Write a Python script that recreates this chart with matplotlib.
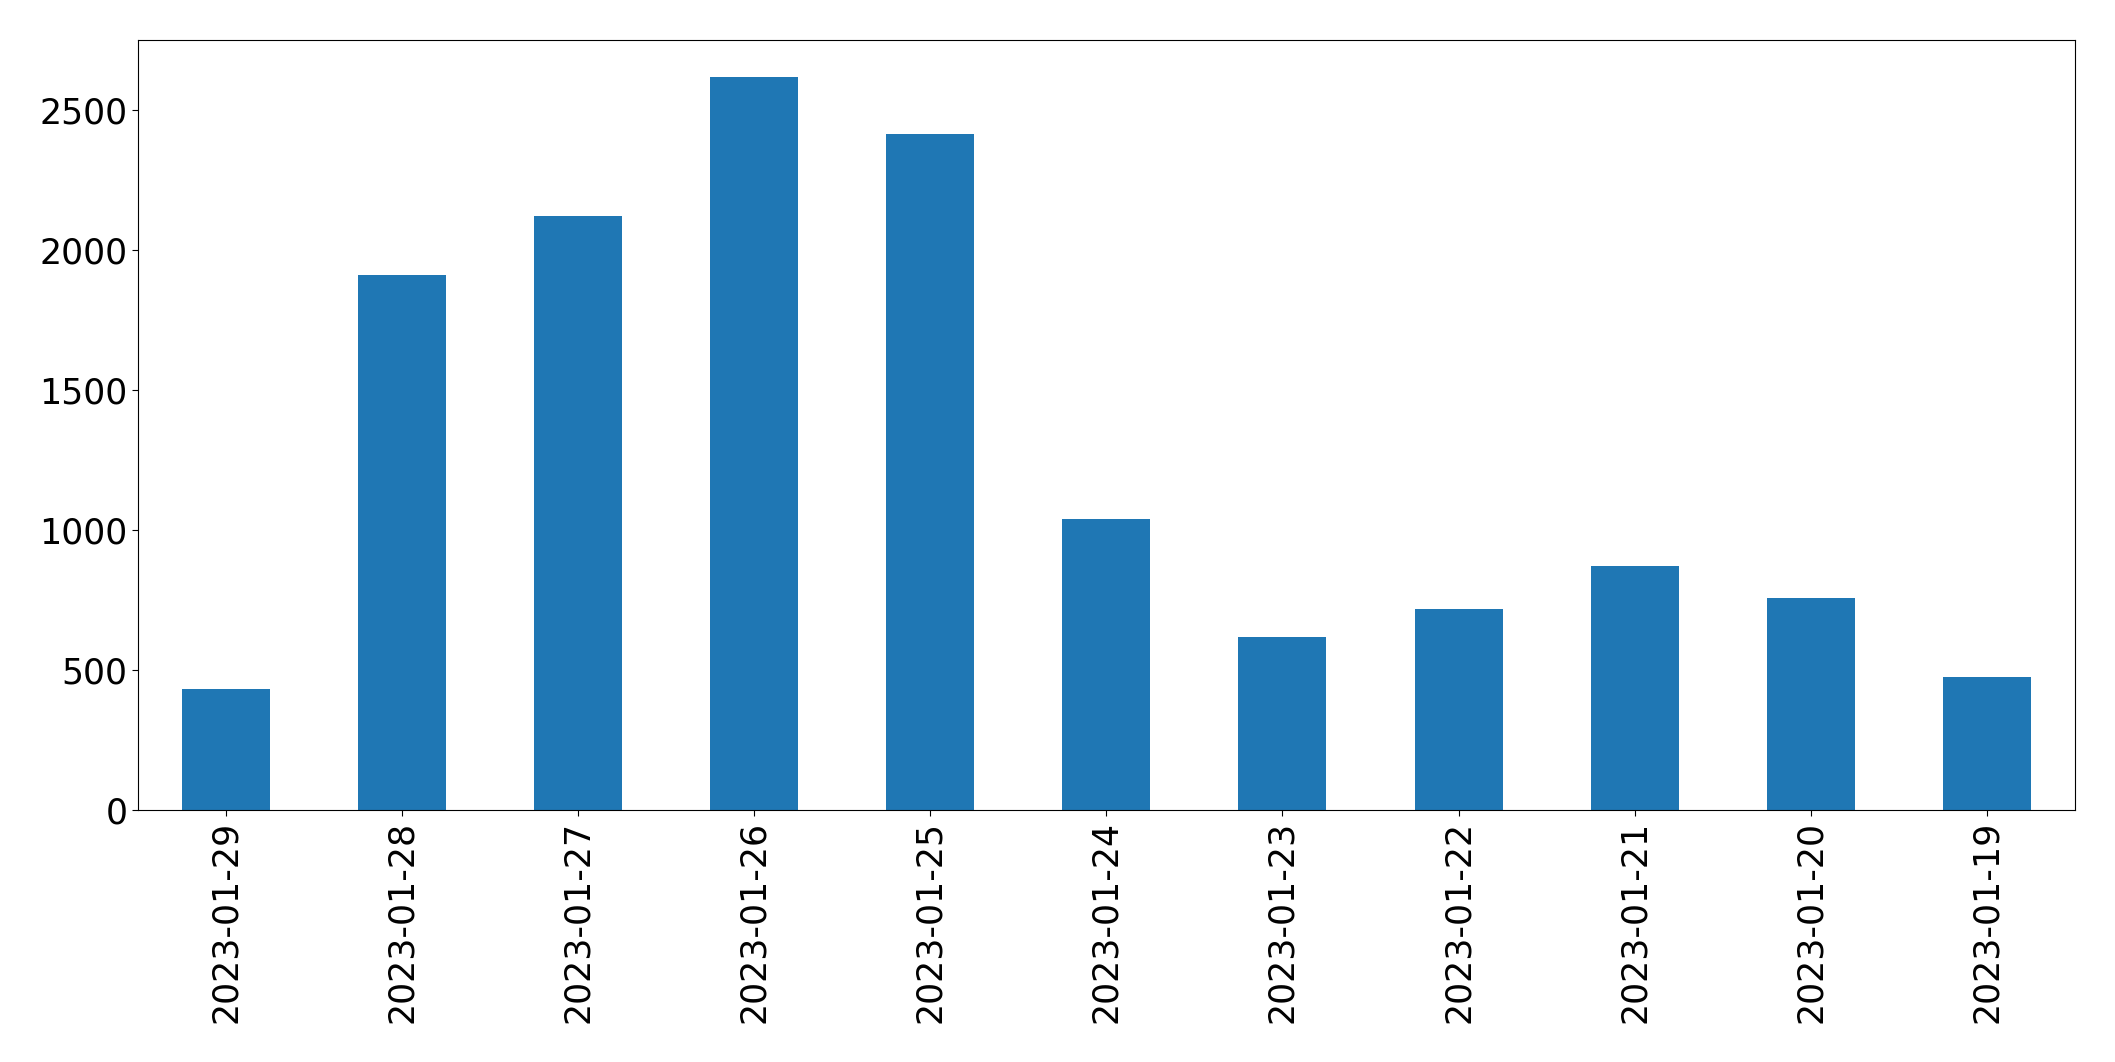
import matplotlib
matplotlib.use("Agg")
import matplotlib.pyplot as plt

dates = ['2023-01-29', '2023-01-28', '2023-01-27', '2023-01-26', '2023-01-25',
         '2023-01-24', '2023-01-23', '2023-01-22', '2023-01-21', '2023-01-20',
         '2023-01-19']
counts = [432, 1911, 2122, 2618, 2414, 1039, 618, 718, 871, 757, 475]

fig = plt.figure(figsize=(21.15, 10.62), dpi=100)
ax = fig.add_axes([0.0652, 0.237, 0.9158, 0.725])

x = range(len(dates))
ax.bar(x, counts, width=0.5, color='#1f77b4')
ax.set_xlim(-0.5, len(dates) - 0.5)
ax.set_ylim(0, max(counts) * 1.05)
ax.set_xticks(list(x))
ax.set_xticklabels(dates, rotation=90)
ax.tick_params(labelsize=25, length=4)

fig.savefig('out.png', dpi=100)
